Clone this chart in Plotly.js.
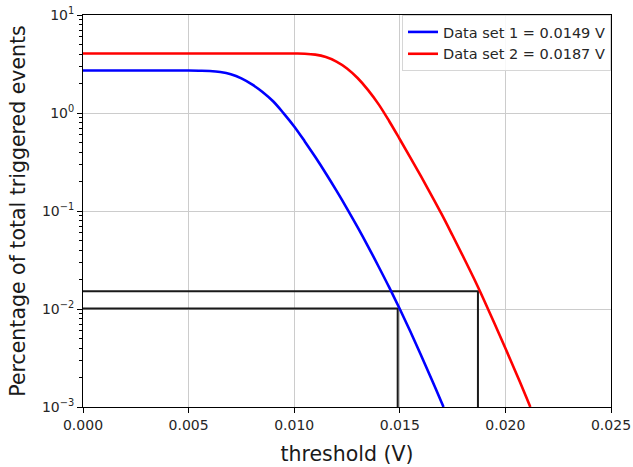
<!DOCTYPE html>
<html>
<head>
<meta charset="utf-8">
<script src="https://cdn.plot.ly/plotly-3.0.1.min.js"></script>
<style>
  html, body { margin: 0; padding: 0; background: #fff; }
  #chart { width: 633px; height: 467px; }
</style>
</head>
<body>
<div id="chart"></div>
<script>
// ---- data ----
const thresholdSet1 = [0, 0.0050, 0.0055, 0.0060, 0.0065, 0.0070, 0.0075, 0.0080, 0.0085, 0.0090, 0.0095,
                       0.0100, 0.0105, 0.0110, 0.0115, 0.0120, 0.0125, 0.0130, 0.0135, 0.0140, 0.0145,
                       0.0150, 0.0155, 0.0160, 0.0165, 0.0170, 0.01707];
const percentSet1   = [2.71, 2.71, 2.70, 2.68, 2.62, 2.49, 2.26, 1.96, 1.64, 1.318, 0.993,
                       0.729, 0.513, 0.355, 0.2413, 0.1612, 0.1059, 0.0684, 0.0434, 0.0270, 0.0166,
                       0.0100, 0.00589, 0.00339, 0.00193, 0.001084, 0.00100];

const thresholdSet2 = [0, 0.0100, 0.0105, 0.0110, 0.0115, 0.0120, 0.0125, 0.0130, 0.0135, 0.0140, 0.0145,
                       0.0150, 0.0155, 0.0160, 0.0165, 0.0170, 0.0175, 0.0180, 0.0185, 0.0190, 0.0195,
                       0.0200, 0.0205, 0.0210, 0.02118];
const percentSet2   = [4.05, 4.05, 4.03, 3.94, 3.72, 3.35, 2.85, 2.275, 1.714, 1.225, 0.824,
                       0.540, 0.351, 0.2265, 0.1445, 0.0912, 0.0562, 0.0343, 0.0207, 0.01216, 0.0070,
                       0.00398, 0.00224, 0.001245, 0.00100];

const legendNames = ['Data set 1 = 0.0149 V', 'Data set 2 = 0.0187 V'];

// marker lines (threshold where each set reaches its level)
const markX1 = [0, 0.0149, 0.0149];
const markY1 = [0.0101, 0.0101, 0.001];
const markX2 = [0, 0.0187, 0.0187];
const markY2 = [0.0152, 0.0152, 0.001];

const yTickVals = [0.001, 0.01, 0.1, 1, 10];
const yTickText = ['10<sup>\u22123</sup>', '10<sup>\u22122</sup>', '10<sup>\u22121</sup>', '10<sup>0</sup>', '10<sup>1</sup>'];

// minor ticks for log axis (2..9 in each decade)
const yMinor = [];
for (let d = -3; d < 1; d++) {
  for (let k = 2; k <= 9; k++) yMinor.push(k * Math.pow(10, d));
}

const traces = [
  { x: markX1, y: markY1, mode: 'lines', line: { color: '#1a1a1a', width: 2 }, showlegend: false, hoverinfo: 'skip' },
  { x: markX2, y: markY2, mode: 'lines', line: { color: '#1a1a1a', width: 2 }, showlegend: false, hoverinfo: 'skip' },
  { x: thresholdSet1, y: percentSet1, mode: 'lines', name: legendNames[0],
    line: { color: '#0000ff', width: 2.6, shape: 'spline', smoothing: 1 } },
  { x: thresholdSet2, y: percentSet2, mode: 'lines', name: legendNames[1],
    line: { color: '#ff0000', width: 2.6, shape: 'spline', smoothing: 1 } }
];

const font = 'DejaVu Sans, sans-serif';
const layout = {
  width: 633, height: 467,
  margin: { l: 83, r: 22, t: 15, b: 60 },
  paper_bgcolor: '#fff', plot_bgcolor: '#fff',
  font: { family: font, color: '#262626', size: 14 },
  showlegend: true,
  legend: {
    x: 1, xanchor: 'right', y: 1, yanchor: 'top',
    bgcolor: 'rgba(255,255,255,0.85)', bordercolor: '#d6d6d6', borderwidth: 1,
    font: { family: font, size: 14.5, color: '#262626' },
    traceorder: 'normal', tracegroupgap: 0
  },
  xaxis: {
    range: [0, 0.025], dtick: 0.005, tick0: 0, tickformat: '.3f',
    showgrid: true, gridcolor: '#cccccc', gridwidth: 1,
    showline: true, mirror: true, linecolor: '#000', linewidth: 1,
    ticks: 'outside', ticklen: 5, tickcolor: '#000',
    zeroline: false,
    tickfont: { family: font, size: 14, color: '#262626' },
    title: { text: 'threshold (V)', font: { family: font, size: 20.5, color: '#1a1a1a' }, standoff: 14 }
  },
  yaxis: {
    type: 'log', range: [-3, 1],
    tickmode: 'array', tickvals: yTickVals, ticktext: yTickText,
    showgrid: true, gridcolor: '#cccccc', gridwidth: 1,
    showline: true, mirror: true, linecolor: '#000', linewidth: 1,
    ticks: 'outside', ticklen: 5, tickcolor: '#000',
    zeroline: false,
    minor: { tickmode: 'array', tickvals: yMinor, ticks: 'outside', ticklen: 3, tickcolor: '#000', showgrid: false },
    tickfont: { family: font, size: 14, color: '#262626' },
    title: { text: 'Percentage of total triggered events', font: { family: font, size: 20.5, color: '#1a1a1a' }, standoff: 10 }
  }
};

Plotly.newPlot('chart', traces, layout, { displayModeBar: false, staticPlot: true });
</script>
</body>
</html>
